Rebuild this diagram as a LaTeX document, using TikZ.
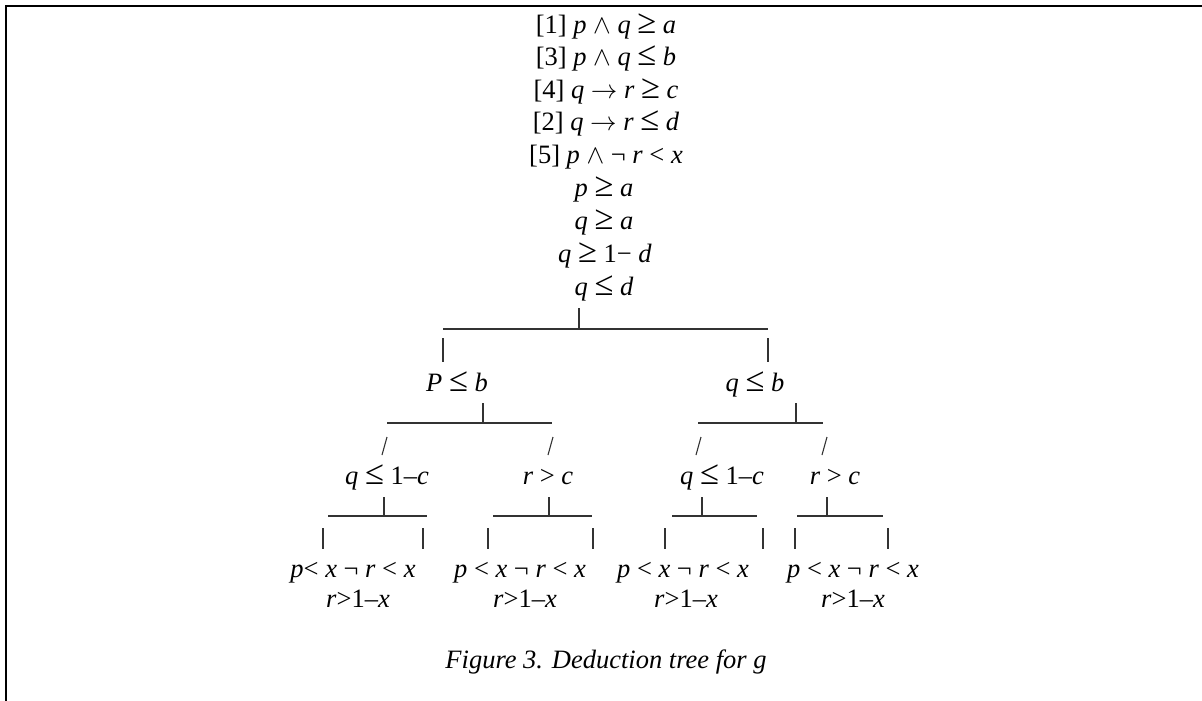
\documentclass[tikz,border=0pt]{standalone}
\usepackage{fix-cm}
\usepackage{graphicx}
\usepackage{fontspec}
\setmainfont{Liberation Serif}
\newcommand\iv[1]{\textit{#1}}
\newcommand\wedgeop{$\wedge$}
\newcommand\arrowop{$\rightarrow$}
\newcommand\geop{\scalebox{1.3}{≥}}
\newcommand\leop{\scalebox{1.3}{≤}}
\begin{document}
\begin{tikzpicture}[x=1pt,y=-1pt,
  lbl/.style={anchor=base,inner sep=0pt,font=\fontsize{26.5}{26.5}\selectfont},
  rule/.style={line width=1.1pt,black!80},
  frame/.style={line width=2.3pt,black}]
\useasboundingbox (0,0) rectangle (1202,701);
% open frame: top and left edges only
\draw[frame] (6,701) -- (6,6) -- (1202,6);

% premises and derived facts
\node[lbl] (l1) at (606,34)  {[1] \iv{p} \wedgeop{} \iv{q} \geop{} \iv{a}};
\node[lbl] (l2) at (606,66)  {[3] \iv{p} \wedgeop{} \iv{q} \leop{} \iv{b}};
\node[lbl] (l3) at (606,98)  {[4] \iv{q} \arrowop{} \iv{r} \geop{} \iv{c}};
\node[lbl] (l4) at (606,130) {[2] \iv{q} \arrowop{} \iv{r} \leop{} \iv{d}};
\node[lbl] (l5) at (606,163) {[5] \iv{p} \wedgeop{} ¬ \iv{r} < \iv{x}};
\node[lbl] (l6) at (604,196) {\iv{p} \geop{} \iv{a}};
\node[lbl] (l7) at (604,229) {\iv{q} \geop{} \iv{a}};
\node[lbl] (l8) at (605,262) {\iv{q} \geop{} 1− \iv{d}};
\node[lbl] (l9) at (604,295) {\iv{q} \leop{} \iv{d}};

% first split
\coordinate (s0) at (579,308);
\coordinate (s0m) at (579,329);
\coordinate (s0l) at (443,329);
\coordinate (s0r) at (768,329);
\draw[rule] (s0) -- (s0m);
\draw[rule] (s0l) -- (s0r);
\draw[rule] (443,338) -- (443,362);
\draw[rule] (768,338) -- (768,362);

\node[lbl] (pb) at (457,391) {\iv{P} \leop{} \iv{b}};
\node[lbl] (qb) at (755,391) {\iv{q} \leop{} \iv{b}};

% second level splits
\draw[rule] (483,403) -- (483,424);
\draw[rule] (387,423) -- (552,423);
\draw[rule] (796,403) -- (796,424);
\draw[rule] (698,423) -- (823,423);
\draw[rule] (382,455) -- (387,437);
\draw[rule] (548,455) -- (553,437);
\draw[rule] (696,455) -- (701,437);
\draw[rule] (822,455) -- (827,437);

\node[lbl] (a1) at (387,484) {\iv{q} \leop{} 1–\iv{c}};
\node[lbl] (a2) at (548,484) {\iv{r} > \iv{c}};
\node[lbl] (a3) at (722,484) {\iv{q} \leop{} 1–\iv{c}};
\node[lbl] (a4) at (835,484) {\iv{r} > \iv{c}};

% third level splits
\draw[rule] (384,497) -- (384,517);
\draw[rule] (328,516) -- (427,516);
\draw[rule] (549,497) -- (549,517);
\draw[rule] (493,516) -- (592,516);
\draw[rule] (702,497) -- (702,517);
\draw[rule] (672,516) -- (757,516);
\draw[rule] (827,497) -- (827,517);
\draw[rule] (797,516) -- (883,516);
\foreach \bx in {323,423,488,593,665,763,795,888}
  \draw[rule] (\bx,528) -- (\bx,549);

% leaves
\node[lbl] (b1) at (353,577) {\iv{p}< \iv{x} ¬ \iv{r} < \iv{x}};
\node[lbl] (b2) at (520,577) {\iv{p} < \iv{x} ¬ \iv{r} < \iv{x}};
\node[lbl] (b3) at (683,577) {\iv{p} < \iv{x} ¬ \iv{r} < \iv{x}};
\node[lbl] (b4) at (853,577) {\iv{p} < \iv{x} ¬ \iv{r} < \iv{x}};
\node[lbl] (c1) at (358,607) {\iv{r}>1–\iv{x}};
\node[lbl] (c2) at (525,607) {\iv{r}>1–\iv{x}};
\node[lbl] (c3) at (686,607) {\iv{r}>1–\iv{x}};
\node[lbl] (c4) at (853,607) {\iv{r}>1–\iv{x}};

% caption
\node[lbl,font=\fontsize{26.5}{26.5}\selectfont\itshape] (cap) at (606,668) {Figure 3. Deduction tree for g};
\end{tikzpicture}
\end{document}
